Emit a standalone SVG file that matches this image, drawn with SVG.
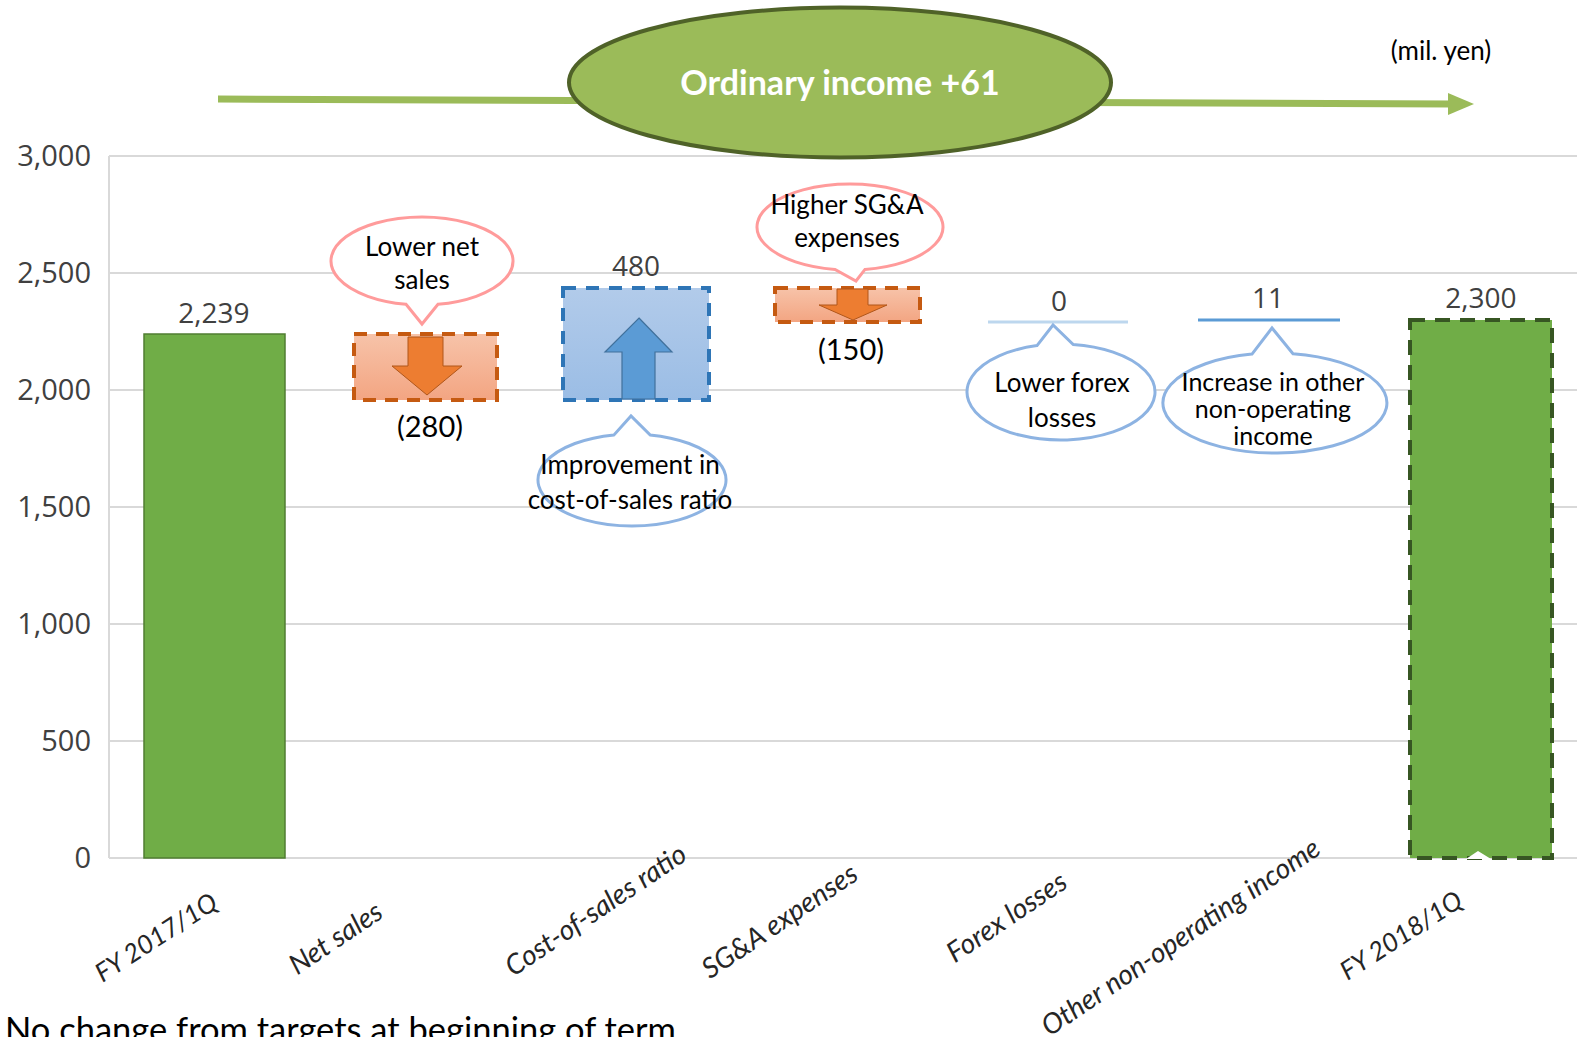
<svg xmlns="http://www.w3.org/2000/svg" width="1577" height="1037" viewBox="0 0 1577 1037">
<style>
.grid{stroke:#D9D9D9;stroke-width:2;fill:none}
.ax{font-family:"Open Sans","DejaVu Sans",sans-serif;font-size:28px;fill:#404040}
.axl{text-anchor:end;font-size:29px}
.val{text-anchor:middle}
.cal{font-family:Lato,"Liberation Sans",sans-serif;font-size:26px;fill:#000;text-anchor:middle}
.sm{font-size:25px}
.neg{font-family:Lato,"Liberation Sans",sans-serif;font-size:29px;fill:#000;text-anchor:middle}
.cat{font-family:Lato,"Liberation Sans",sans-serif;font-style:italic;font-size:28px;fill:#262626;text-anchor:middle}
.fy{font-size:26px}
.pink{fill:#fff;stroke:#FF9B9B;stroke-width:3}
.blue{fill:#fff;stroke:#8DB3E2;stroke-width:3}
.obox{fill:url(#og);stroke:#C55A11;stroke-width:4;stroke-dasharray:13 9}
.bbox{fill:url(#bg);stroke:#2E75B6;stroke-width:4;stroke-dasharray:13 10}
.oarr{fill:#ED7D31;stroke:#B0561A;stroke-width:1}
.barr{fill:#5B9BD5;stroke:#41719C;stroke-width:1.2}
</style>
<defs>
<linearGradient id="og" x1="0" y1="0" x2="0" y2="1"><stop offset="0" stop-color="#F7C3A9"/><stop offset="1" stop-color="#F3A582"/></linearGradient>
<linearGradient id="bg" x1="0" y1="0" x2="0" y2="1"><stop offset="0" stop-color="#B2CBEA"/><stop offset="1" stop-color="#9BBDE5"/></linearGradient>
</defs>
<rect width="1577" height="1037" fill="#fff"/>

<g id="axes">
<line class="grid" x1="109" y1="156" x2="1577" y2="156"/>
<line class="grid" x1="109" y1="273" x2="1577" y2="273"/>
<line class="grid" x1="109" y1="390" x2="1577" y2="390"/>
<line class="grid" x1="109" y1="507" x2="1577" y2="507"/>
<line class="grid" x1="109" y1="624" x2="1577" y2="624"/>
<line class="grid" x1="109" y1="741" x2="1577" y2="741"/>
<line class="grid" x1="109" y1="858" x2="1577" y2="858"/>
<line class="grid" x1="109" y1="156" x2="109" y2="858"/>
<text class="ax axl" x="91" y="166">3,000</text>
<text class="ax axl" x="91" y="283">2,500</text>
<text class="ax axl" x="91" y="400">2,000</text>
<text class="ax axl" x="91" y="517">1,500</text>
<text class="ax axl" x="91" y="634">1,000</text>
<text class="ax axl" x="91" y="751">500</text>
<text class="ax axl" x="91" y="868">0</text>
</g>

<g id="connectors">
<line x1="218" y1="99" x2="1452" y2="104" stroke="#9BBB59" stroke-width="7"/>
<polygon points="1448,93 1474,104 1448,115" fill="#9BBB59"/>
</g>

<g id="title-ellipse">
<ellipse cx="840" cy="82.5" rx="271" ry="75" fill="#9BBB59" stroke="#4F6228" stroke-width="4"/>
<text x="840" y="95" font-family="Lato,'Liberation Sans',sans-serif" font-weight="bold" font-size="34" fill="#fff" text-anchor="middle">Ordinary income +61</text>
</g>

<g id="unit">
<text class="cal" x="1441" y="60">(mil. yen)</text>
</g>

<g id="bar-fy2017">
<rect x="144" y="334" width="141" height="524" fill="#70AD47" stroke="#507E32" stroke-width="1.5"/>
<text class="ax val" x="214" y="323">2,239</text>
</g>

<g id="bar-net-sales">
<rect class="obox" x="354" y="334" width="143" height="66"/>
<polygon class="oarr" points="408,337 443,337 443,366 462,366 427,395 392,366 408,366"/>
<text class="neg" x="430" y="437">(280)</text>
</g>

<g id="bar-cost-of-sales">
<rect class="bbox" x="563" y="288" width="146" height="112"/>
<polygon class="barr" points="639,318 672,352 655,352 655,399 622,399 622,352 605,352"/>
<text class="ax val" x="636" y="276">480</text>
</g>

<g id="bar-sga">
<rect class="obox" x="775" y="288" width="145" height="34"/>
<polygon class="oarr" points="837,289 868,289 868,305 887,305 853,320 819,305 837,305"/>
<text class="neg" x="851" y="360">(150)</text>
</g>

<g id="bar-forex">
<line x1="988" y1="322" x2="1128" y2="322" stroke="#BDD7EE" stroke-width="3"/>
<text class="ax val" x="1059" y="311">0</text>
</g>

<g id="bar-other">
<line x1="1198" y1="320" x2="1340" y2="320" stroke="#5B9BD5" stroke-width="3"/>
<text class="ax val" x="1268" y="308">11</text>
</g>

<g id="bar-fy2018">
<rect x="1410" y="320" width="142" height="538" fill="#70AD47" stroke="#375623" stroke-width="4" stroke-dasharray="15 10"/>
<polygon points="1466,859 1478,851 1491,859" fill="#fff"/>
<text class="ax val" x="1481" y="308">2,300</text>
</g>

<g id="callout-net-sales">
<path class="pink" d="M406,304.3 A91,44 0 1 1 438,304.3 L422,324 Z"/>
<text class="cal" x="422" y="256">Lower net</text>
<text class="cal" x="422" y="289">sales</text>
</g>

<g id="callout-cost-of-sales">
<path class="blue" d="M650,434.9 A94,46 0 1 1 614,434.9 L631,416 Z"/>
<text class="cal" x="630" y="474">Improvement in</text>
<text class="cal" x="630" y="509">cost-of-sales ratio</text>
</g>

<g id="callout-sga">
<path class="pink" d="M835,269.4 A93,43 0 1 1 865,269.4 L856,281 Z"/>
<text class="cal" x="847" y="214">Higher SG&amp;A</text>
<text class="cal" x="847" y="247">expenses</text>
</g>

<g id="callout-forex">
<path class="blue" d="M1073,344.4 A94,48 0 1 1 1037,345.6 L1053,325 Z"/>
<text class="cal" x="1062" y="392">Lower forex</text>
<text class="cal" x="1062" y="427">losses</text>
</g>

<g id="callout-other">
<path class="blue" d="M1293,353.7 A112,50 0 1 1 1252,354.1 L1272,328 Z"/>
<text class="cal sm" x="1273" y="391">Increase in other</text>
<text class="cal sm" x="1273" y="418">non-operating</text>
<text class="cal sm" x="1273" y="445">income</text>
</g>

<g id="categories">
<text class="cat fy" transform="translate(161,945) rotate(-33)">FY 2017/1Q</text>
<text class="cat" transform="translate(341,946) rotate(-34)">Net sales</text>
<text class="cat" transform="translate(601,918) rotate(-34)">Cost-of-sales ratio</text>
<text class="cat" transform="translate(785,929) rotate(-34)">SG&amp;A expenses</text>
<text class="cat" transform="translate(1012,925) rotate(-34)">Forex losses</text>
<text class="cat" transform="translate(1186,945) rotate(-34)">Other non-operating income</text>
<text class="cat fy" transform="translate(1406,943) rotate(-33)">FY 2018/1Q</text>
</g>

<g id="footnote">
<text x="5" y="1042" font-family="Lato,'Liberation Sans',sans-serif" font-size="34.5" fill="#000">No change from targets at beginning of term</text>
</g>
</svg>
